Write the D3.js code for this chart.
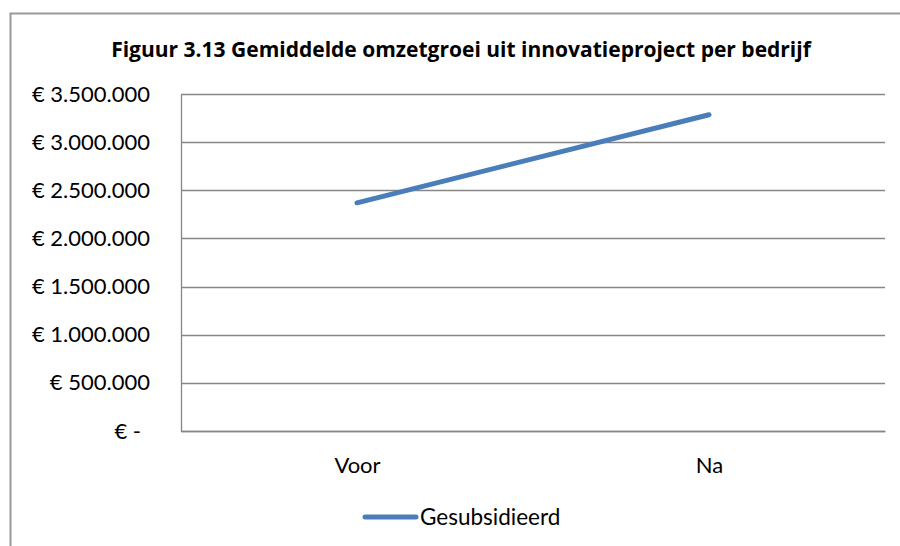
<!DOCTYPE html>
<html>
<head>
<meta charset="utf-8">
<script src="https://cdn.jsdelivr.net/npm/d3@7/dist/d3.min.js"></script>
<style>
  body { margin: 0; background: #fff; }
  text { fill: #000; }
</style>
</head>
<body>
<div id="chart"></div>
<script>
// data
const categories = ['Voor', 'Na'];
const seriesName = 'Gesubsidieerd';
const values = [2370000, 3285000];
const yTicks = [0, 500000, 1000000, 1500000, 2000000, 2500000, 3000000, 3500000];
const titleText = 'Figuur 3.13 Gemiddelde omzetgroei uit innovatieproject per bedrijf';

const W = 900, H = 546;
const margin = { left: 181, right: 15, top: 94, bottom: 115 };
const width = W - margin.left - margin.right;
const height = H - margin.top - margin.bottom;
const lineColor = '#4a7ebb';
const gridColor = '#868686';
const labelFont = 'Lato, sans-serif';

const svg = d3.select('#chart').append('svg')
  .attr('width', W)
  .attr('height', H);

// chart area border (runs off the right and bottom edge)
svg.append('rect')
  .attr('x', 10.5)
  .attr('y', 13.5)
  .attr('width', 1000)
  .attr('height', 1000)
  .attr('fill', 'none')
  .attr('stroke', '#9a9a9a')
  .attr('stroke-width', 2);

svg.append('text')
  .attr('x', 461)
  .attr('y', 57)
  .attr('text-anchor', 'middle')
  .style('font-family', "'Open Sans', sans-serif")
  .style('font-size', '21px')
  .style('font-weight', 'bold')
  .text(titleText);

const g = svg.append('g').attr('transform', 'translate(' + margin.left + ',' + margin.top + ')');

// scales
const x = d3.scalePoint().domain(categories).range([0, width]).padding(0.5);
const y = d3.scaleLinear().domain([0, 3500000]).range([height, 0]);

// gridlines
g.selectAll('.grid')
  .data(yTicks)
  .enter()
  .append('line')
  .attr('class', 'grid')
  .attr('x1', 0)
  .attr('x2', width)
  .attr('y1', d => Math.round(y(d)) + 0.5)
  .attr('y2', d => Math.round(y(d)) + 0.5)
  .attr('stroke', gridColor)
  .attr('stroke-width', 1.3);

// euro format like the Excel accounting style
function euro(d) {
  if (d === 0) return '€ -';
  return '€ ' + d3.format(',')(d).replace(/,/g, '.');
}

const yAxis = g.append('g')
  .call(d3.axisLeft(y).tickValues(yTicks).tickSize(0).tickPadding(31).tickFormat(euro));
yAxis.select('.domain').attr('stroke', gridColor).attr('stroke-width', 1.3);
yAxis.selectAll('text')
  .style('font-size', '22px')
  .style('font-family', labelFont)
  .attr('dx', d => d === 0 ? -9 : 0);

const xAxis = g.append('g')
  .attr('transform', 'translate(0,' + height + ')')
  .call(d3.axisBottom(x).tickSize(0).tickPadding(26));
xAxis.select('.domain').attr('stroke', gridColor).attr('stroke-width', 1.3);
xAxis.selectAll('text')
  .style('font-size', '22px')
  .style('font-family', labelFont);

// line
const line = d3.line()
  .x((d, i) => x(categories[i]))
  .y(d => y(d));

g.append('path')
  .datum(values)
  .attr('fill', 'none')
  .attr('stroke', lineColor)
  .attr('stroke-width', 5)
  .attr('stroke-linecap', 'round')
  .attr('d', line);

// legend
const legend = svg.append('g').attr('transform', 'translate(365,517)');
legend.append('line')
  .attr('x1', 0)
  .attr('x2', 51)
  .attr('stroke', lineColor)
  .attr('stroke-width', 5)
  .attr('stroke-linecap', 'round');
legend.append('text')
  .attr('x', 55)
  .attr('dy', '0.35em')
  .style('font-size', '22.5px')
  .style('font-family', labelFont)
  .text(seriesName);
</script>
</body>
</html>
